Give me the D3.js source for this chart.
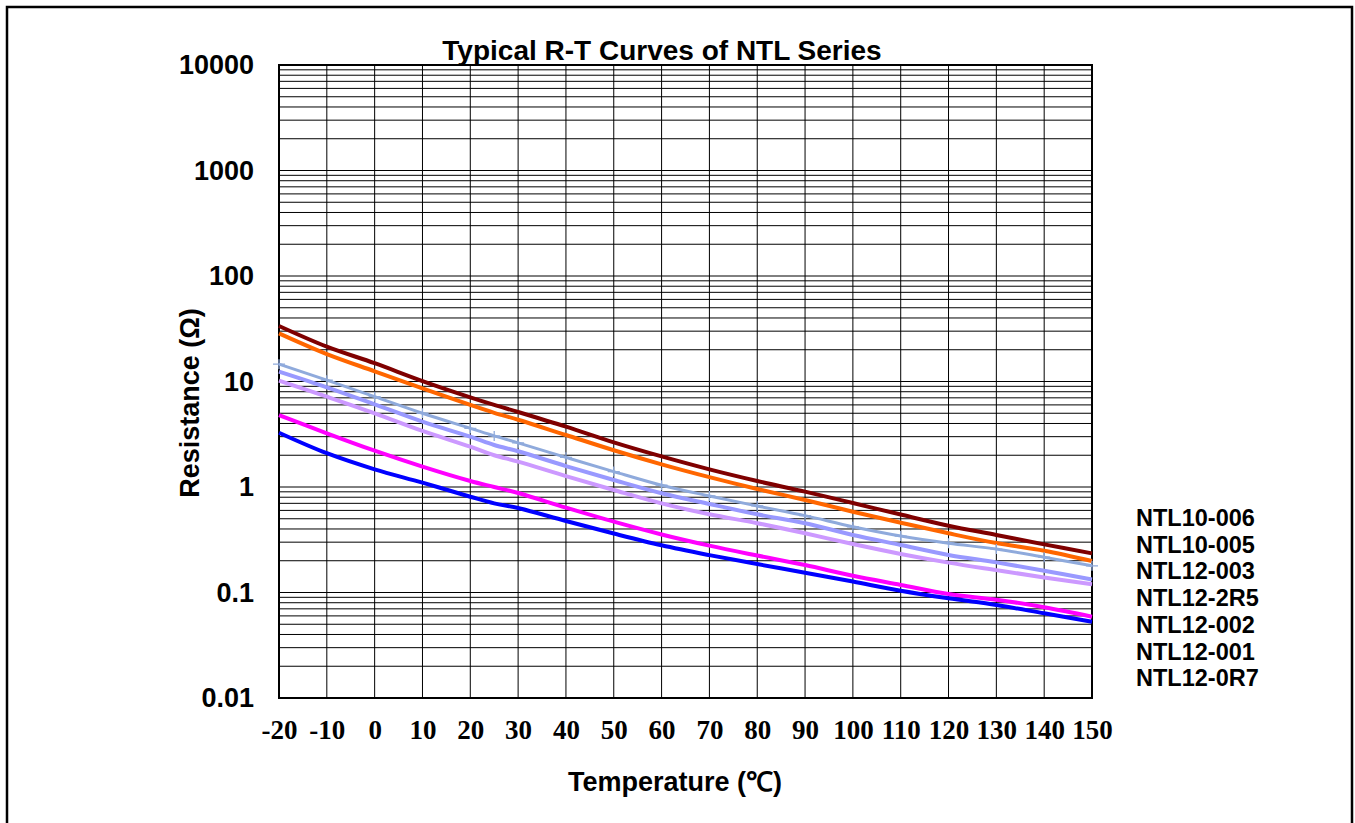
<!DOCTYPE html>
<html>
<head>
<meta charset="utf-8">
<script src="https://cdn.jsdelivr.net/npm/d3@7"></script>
<style>
  html, body { margin: 0; padding: 0; background: #fff; }
  svg { display: block; }
</style>
</head>
<body>
<svg id="chart" width="1355" height="823"></svg>
<script>
// ---------- data ----------
const temps = [-20, -10, 0, 10, 20, 25, 30, 40, 50, 60, 70, 80, 90, 100, 110, 120, 130, 140, 150];
const seriesNames = ["NTL10-006", "NTL10-005", "NTL12-003", "NTL12-2R5", "NTL12-002", "NTL12-001", "NTL12-0R7"];
const ntl10_006 = [33.6, 21.4, 14.9, 10.1, 7.08, 6.0, 5.14, 3.73, 2.65, 1.95, 1.47, 1.14, 0.903, 0.705, 0.548, 0.430, 0.351, 0.286, 0.235];
const ntl10_005 = [28.6, 18.2, 12.5, 8.62, 5.99, 5.05, 4.34, 3.11, 2.23, 1.64, 1.24, 0.957, 0.753, 0.583, 0.459, 0.364, 0.294, 0.249, 0.199];
const ntl12_003 = [14.6, 10.3, 7.18, 5.0, 3.60, 3.05, 2.62, 1.91, 1.40, 1.04, 0.822, 0.661, 0.535, 0.420, 0.343, 0.293, 0.258, 0.216, 0.179];
const ntl12_2r5 = [12.4, 8.81, 6.08, 4.16, 3.00, 2.5, 2.18, 1.58, 1.165, 0.872, 0.690, 0.551, 0.453, 0.351, 0.282, 0.227, 0.193, 0.161, 0.133];
const ntl12_002 = [10.2, 7.18, 5.0, 3.40, 2.41, 2.0, 1.74, 1.27, 0.937, 0.70, 0.551, 0.454, 0.364, 0.288, 0.232, 0.192, 0.163, 0.139, 0.120];
const ntl12_001 = [4.81, 3.23, 2.21, 1.56, 1.14, 1.0, 0.877, 0.637, 0.469, 0.355, 0.278, 0.224, 0.182, 0.144, 0.118, 0.0968, 0.0855, 0.0724, 0.0590];
const ntl12_0r7 = [3.27, 2.09, 1.47, 1.10, 0.809, 0.70, 0.632, 0.476, 0.362, 0.280, 0.226, 0.186, 0.154, 0.127, 0.104, 0.0881, 0.0761, 0.0635, 0.0529];
const seriesValues = [ntl10_006, ntl10_005, ntl12_003, ntl12_2r5, ntl12_002, ntl12_001, ntl12_0r7];
const xTicks = [-20, -10, 0, 10, 20, 30, 40, 50, 60, 70, 80, 90, 100, 110, 120, 130, 140, 150];
const xTickLabels = ["-20", "-10", "0", "10", "20", "30", "40", "50", "60", "70", "80", "90", "100", "110", "120", "130", "140", "150"];
const yTicks = [0.01, 0.1, 1, 10, 100, 1000, 10000];
const yTickLabels = ["0.01", "0.1", "1", "10", "100", "1000", "10000"];
const title = "Typical R-T Curves of NTL Series";
const xTitle = "Temperature (\u2103)";
const yTitle = "Resistance (\u03A9)";

// ---------- styles ----------
const colors = ["#7f0000", "#ff6600", "#8faadc", "#9999ff", "#cc99ff", "#ff00ff", "#0000ff"];
const widths = [4, 4, 3, 4, 4, 4, 4];
const markerSeries = 2;

const svg = d3.select("#chart");
const L = 279, R = 1092, T = 65, B = 698;

const x = d3.scaleLinear().domain([-20, 150]).range([L, R]);
const y = d3.scaleLog().domain([0.01, 10000]).range([B, T]);

// outer frame (open at bottom, cut off)
svg.append("path")
  .attr("d", `M7,830V7H1352V830`)
  .attr("fill", "none").attr("stroke", "#000").attr("stroke-width", 2.5);

// minor/major horizontal grid values
const yGrid = [];
for (let k = -2; k <= 3; k++) for (let m = 1; m <= 9; m++) yGrid.push(+(m * Math.pow(10, k)).toPrecision(3));
yGrid.push(10000);

const grid = svg.append("g");
grid.selectAll("line.h").data(yGrid).join("line")
  .attr("x1", L).attr("x2", R)
  .attr("y1", d => y(d)).attr("y2", d => y(d))
  .attr("stroke", "#000").attr("stroke-width", 1);
grid.selectAll("line.v").data(xTicks).join("line")
  .attr("y1", T).attr("y2", B)
  .attr("x1", d => x(d)).attr("x2", d => x(d))
  .attr("stroke", "#000").attr("stroke-width", 1);

// plot border
svg.append("rect").attr("x", L).attr("y", T).attr("width", R - L).attr("height", B - T)
  .attr("fill", "none").attr("stroke", "#000").attr("stroke-width", 2);

// axes labels via d3 axes
const yAxis = svg.append("g").attr("transform", `translate(${L},0)`)
  .call(d3.axisLeft(y).tickValues(yTicks).tickSize(0).tickPadding(25)
    .tickFormat((d, i) => yTickLabels[i]));
yAxis.select(".domain").remove();
yAxis.selectAll("text")
  .attr("font-family", "'Liberation Sans', Arial, sans-serif")
  .attr("font-weight", "bold").attr("font-size", 27).attr("fill", "#000");

const xAxis = svg.append("g").attr("transform", `translate(0,${B})`)
  .call(d3.axisBottom(x).tickValues(xTicks).tickSize(0).tickPadding(22)
    .tickFormat((d, i) => xTickLabels[i]));
xAxis.select(".domain").remove();
xAxis.selectAll("text")
  .attr("font-family", "'Liberation Serif', 'Times New Roman', serif")
  .attr("font-weight", "bold").attr("font-size", 27).attr("fill", "#000");

// series lines
const line = d3.line().curve(d3.curveCatmullRom.alpha(0.5))
  .x((d, i) => x(temps[i])).y(d => y(d));
const lines = svg.append("g");
seriesValues.forEach((vals, s) => {
  lines.append("path").datum(vals)
    .attr("d", line)
    .attr("fill", "none")
    .attr("stroke", colors[s])
    .attr("stroke-width", widths[s])
    .attr("stroke-linejoin", "round");
  if (s === markerSeries) {
    lines.selectAll(null).data(vals).join("path")
      .attr("d", (d, i) => {
        const cx = x(temps[i]), cy = y(d);
        return `M${cx - 6},${cy}H${cx + 6}M${cx},${cy - 5}V${cy + 5}`;
      })
      .attr("stroke", colors[s]).attr("stroke-width", 1.3).attr("fill", "none");
  }
});

// legend (text only)
const legend = svg.append("g");
legend.selectAll("text").data(seriesNames).join("text")
  .attr("x", 1136).attr("y", (d, i) => 526 + i * 26.7)
  .attr("font-family", "'Liberation Sans', Arial, sans-serif")
  .attr("font-weight", "bold").attr("font-size", 23.5).attr("fill", "#000")
  .text(d => d);

// title
svg.append("text").attr("x", 662).attr("y", 60).attr("text-anchor", "middle")
  .attr("font-family", "'Liberation Sans', Arial, sans-serif")
  .attr("font-weight", "bold").attr("font-size", 28).text(title);

// axis titles
svg.append("text").attr("x", 675).attr("y", 791).attr("text-anchor", "middle")
  .attr("font-family", "'Liberation Sans', Arial, sans-serif")
  .attr("font-weight", "bold").attr("font-size", 27).text(xTitle);

svg.append("text").attr("transform", "translate(199,403) rotate(-90)")
  .attr("text-anchor", "middle")
  .attr("font-family", "'Liberation Sans', Arial, sans-serif")
  .attr("font-weight", "bold").attr("font-size", 27).text(yTitle);
</script>
</body>
</html>
